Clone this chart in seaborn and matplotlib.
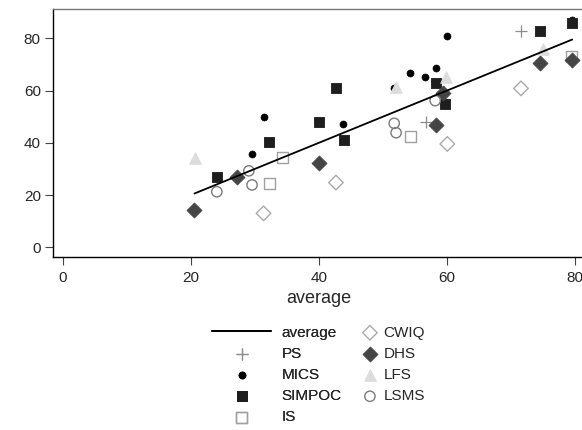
import matplotlib
matplotlib.use("Agg")
import matplotlib.pyplot as plt
import seaborn as sns

# averages across surveys (x) and the survey values (y)
avg_line = [20.6, 79.6]

ps_x = [56.7, 71.6]
ps_y = [48.1, 82.9]

mics_x = [29.6, 31.4, 43.8, 51.8, 54.2, 56.6, 58.3, 60.1, 79.5]
mics_y = [35.7, 49.8, 47.1, 60.9, 66.7, 65.4, 68.8, 81.0, 87.0]

simpoc_x = [24.1, 32.3, 40.0, 42.7, 43.9, 58.3, 59.7, 74.5, 79.5]
simpoc_y = [27.0, 40.5, 48.1, 61.2, 41.1, 63.1, 54.9, 83.0, 86.1]

is_x = [32.3, 34.3, 54.3, 79.5]
is_y = [24.5, 34.5, 42.4, 73.3]

cwiq_x = [31.4, 42.7, 60.1, 71.6]
cwiq_y = [13.0, 24.8, 39.6, 60.9]

dhs_x = [20.6, 27.2, 40.0, 58.3, 59.5, 74.5, 79.6]
dhs_y = [14.3, 27.0, 32.4, 46.7, 59.2, 70.5, 71.8]

lfs_x = [20.7, 52.1, 59.9, 75.0]
lfs_y = [34.1, 61.3, 65.1, 75.9]

lsms_x = [24.1, 29.1, 29.6, 51.8, 52.1, 58.2]
lsms_y = [21.3, 29.3, 23.9, 47.5, 43.9, 56.2]

sns.set_style("white")
plt.rcParams["font.family"] = ["Liberation Sans", "DejaVu Sans"]
plt.rcParams["font.size"] = 11

fig = plt.figure(figsize=(5.82, 4.30), dpi=100)
ax = fig.add_axes([53.3 / 582, (430 - 256.7) / 430, (585 - 53.3) / 582, (256.7 - 9) / 430])

sns.lineplot(x=avg_line, y=avg_line, color="black", lw=1.3, label="average", ax=ax, zorder=5)
sns.scatterplot(x=ps_x, y=ps_y, marker="+", color="#8c8c8c", s=80, linewidth=0.9, label="PS", ax=ax)
sns.scatterplot(x=mics_x, y=mics_y, marker="o", color="black", edgecolor="black", s=26, label="MICS", ax=ax)
sns.scatterplot(x=simpoc_x, y=simpoc_y, marker="s", color="#1e1e1e", edgecolor="#1e1e1e", s=62, label="SIMPOC", ax=ax)
sns.scatterplot(x=is_x, y=is_y, marker="s", facecolor="none", edgecolor="#a0a0a0", linewidth=1.0, s=62, label="IS", ax=ax)
sns.scatterplot(x=cwiq_x, y=cwiq_y, marker="D", facecolor="none", edgecolor="#aaaaaa", linewidth=1.0, s=55, label="CWIQ", ax=ax)
sns.scatterplot(x=dhs_x, y=dhs_y, marker="D", color="#454545", edgecolor="#454545", s=58, label="DHS", ax=ax)
sns.scatterplot(x=lfs_x, y=lfs_y, marker="^", color="#dcdcdc", edgecolor="#dcdcdc", s=70, label="LFS", ax=ax)
sns.scatterplot(x=lsms_x, y=lsms_y, marker="o", facecolor="none", edgecolor="#7a7a7a", linewidth=1.0, s=55, label="LSMS", ax=ax)

ax.set_xlim(-1.44, 81.6)
ax.set_ylim(-3.6, 91.3)
ax.set_xticks([0, 20, 40, 60, 80])
ax.set_yticks([0, 20, 40, 60, 80])
ax.set_xlabel("average", fontsize=13, labelpad=4)
ax.set_ylabel("")
ax.tick_params(axis="both", bottom=True, left=True, direction="out", length=6, width=0.8,
               color="#444444", labelsize=11, pad=3)
ax.tick_params(axis="x", pad=4)
for side in ["left", "bottom"]:
    ax.spines[side].set_color("black")
    ax.spines[side].set_linewidth(1.0)
ax.spines["top"].set_color("#777777")
ax.spines["top"].set_linewidth(1.0)
ax.spines["right"].set_visible(False)

handles, labels = ax.get_legend_handles_labels()
ax.get_legend().remove()

leg1 = fig.legend(handles[:5], labels[:5], loc="upper left", bbox_to_anchor=(198 / 582, 1 - 312 / 430),
                  frameon=False, handlelength=3.9, handletextpad=0.65, labelspacing=0.47, fontsize=11)
leg2 = fig.legend(handles[5:], labels[5:], loc="upper left", bbox_to_anchor=(347 / 582, 1 - 312 / 430),
                  frameon=False, handlelength=1.2, handletextpad=0.3, labelspacing=0.47, fontsize=11)
fig.add_artist(leg1)

fig.savefig("out.png", dpi=100)
